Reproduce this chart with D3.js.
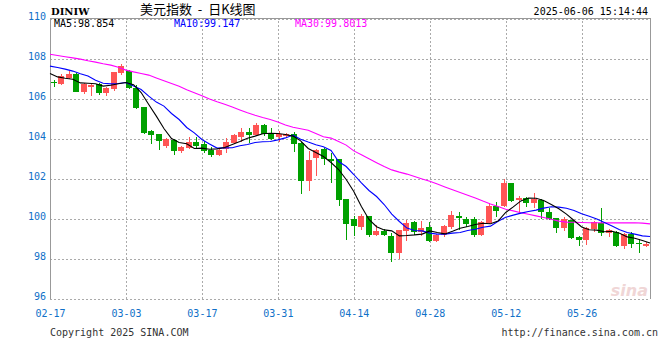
<!DOCTYPE html>
<html><head><meta charset="utf-8">
<script src="https://cdn.jsdelivr.net/npm/d3@7"></script>
<style>body{margin:0;background:#fff}svg{display:block}</style>
</head><body><svg id="c" width="660" height="360"></svg>
<script>
const dates = ["02-17","02-18","02-19","02-20","02-21","02-24","02-25","02-26","02-27","02-28",
"03-03","03-04","03-05","03-06","03-07","03-10","03-11","03-12","03-13","03-14",
"03-17","03-18","03-19","03-20","03-21","03-24","03-25","03-26","03-27","03-28",
"03-31","04-01","04-02","04-03","04-04","04-07","04-08","04-09","04-10","04-11",
"04-14","04-15","04-16","04-17","04-18","04-21","04-22","04-23","04-24","04-25",
"04-28","04-29","04-30","05-01","05-02","05-05","05-06","05-07","05-08","05-09",
"05-12","05-13","05-14","05-15","05-16","05-19","05-20","05-21","05-22","05-23",
"05-26","05-27","05-28","05-29","05-30","06-02","06-03","06-04","06-05","06-06"];
const open = [106.84,106.72,107.03,107.24,106.34,106.57,106.74,106.29,106.47,107.27,
107.40,106.55,105.57,104.36,104.23,103.62,103.95,103.39,103.55,103.84,
103.73,103.45,103.18,103.46,103.76,104.09,104.34,104.18,104.70,104.26,
104.06,104.13,104.25,103.78,101.88,103.05,103.48,102.98,102.97,100.98,
100.00,99.59,100.13,99.18,99.38,99.13,98.29,99.39,99.83,99.32,
99.57,98.89,99.18,99.57,100.13,99.98,99.96,99.18,99.79,100.63,
100.63,101.79,100.93,101.01,100.76,100.93,100.31,100.01,99.54,99.93,
99.09,98.93,99.48,99.76,99.26,99.34,98.64,99.21,98.79,98.63];
const high = [106.93,107.24,107.40,107.27,106.76,106.79,106.80,106.60,107.34,107.72,
107.42,106.66,105.60,104.42,104.25,104.05,103.98,103.63,104.06,104.09,
103.90,103.56,103.50,104.03,104.25,104.51,104.51,104.76,104.74,104.51,
104.38,104.30,104.32,103.85,103.40,103.48,103.51,103.30,102.99,101.00,
100.11,100.25,100.15,99.68,99.48,99.26,99.43,99.93,99.90,99.89,
99.84,99.22,99.68,100.39,100.34,100.06,100.09,99.88,100.76,100.84,
101.96,101.80,101.13,101.06,101.26,100.98,100.54,100.04,100.09,99.95,
99.14,99.59,99.88,100.54,99.50,99.36,99.26,99.34,98.98,98.85];
const low = [106.59,106.67,106.96,106.32,106.25,106.14,106.20,106.13,106.40,107.18,
106.47,105.49,104.21,103.74,103.42,103.55,103.18,103.29,103.46,103.46,
103.30,103.10,103.12,103.30,103.72,103.82,103.78,104.15,104.13,103.91,
103.82,104.05,103.34,101.25,101.40,102.13,102.68,101.79,100.61,98.93,
99.13,99.43,99.09,99.13,99.13,97.84,97.96,98.90,99.20,99.15,
98.84,98.85,99.08,99.47,99.45,99.59,99.09,99.12,99.71,100.06,
100.56,100.84,100.29,100.56,100.51,99.98,99.93,99.29,99.38,98.98,
98.63,98.68,99.32,99.14,99.08,98.56,98.48,98.54,98.26,98.60];
const close = [106.77,107.13,107.24,106.33,106.71,106.68,106.28,106.53,107.33,107.64,
106.52,105.53,104.27,104.19,103.89,103.98,103.39,103.57,103.84,103.65,
103.36,103.18,103.45,103.82,104.19,104.34,104.18,104.70,104.23,103.98,
104.24,104.24,103.75,101.88,102.93,103.43,102.96,102.87,100.93,99.73,
99.63,100.13,99.18,99.38,99.18,98.29,99.43,99.76,99.32,99.55,
98.89,99.18,99.63,100.18,100.03,99.72,99.18,99.84,100.63,100.39,
101.79,100.89,101.03,100.76,100.97,100.31,99.98,99.54,99.96,99.04,
98.93,99.54,99.84,99.26,99.43,98.64,99.21,98.71,98.71,98.71];
const ma5 = [107.25,107.08,107.01,106.96,106.78,106.76,106.74,106.62,106.66,106.74,
106.80,106.69,106.30,105.70,105.12,104.50,104.00,103.80,103.74,103.50,
103.52,103.46,103.48,103.55,103.70,103.85,104.01,104.12,104.24,104.26,
104.25,104.20,104.12,103.88,103.50,103.30,103.10,102.80,102.45,101.95,
101.35,100.60,99.95,99.59,99.43,99.38,99.13,99.15,99.18,99.22,
99.38,99.30,99.23,99.36,99.51,99.60,99.70,99.76,99.74,99.87,
100.30,100.58,100.88,101.02,101.01,100.90,100.70,100.49,100.22,99.90,
99.58,99.44,99.42,99.34,99.36,99.26,99.08,99.01,98.90,98.78];
const ma10 = [107.62,107.55,107.47,107.37,107.24,107.12,106.91,106.76,106.73,106.75,
106.80,106.62,106.45,106.12,105.82,105.62,105.25,104.95,104.55,104.28,
103.95,103.73,103.52,103.53,103.54,103.64,103.70,103.80,103.84,103.85,
103.93,104.03,104.17,103.96,103.82,103.69,103.59,103.40,102.85,102.60,
102.20,101.78,101.40,101.10,100.70,100.22,99.85,99.52,99.40,99.38,
99.27,99.22,99.22,99.27,99.30,99.40,99.46,99.56,99.62,99.86,
100.06,100.17,100.27,100.35,100.42,100.52,100.59,100.57,100.51,100.40,
100.24,100.11,99.98,99.80,99.62,99.44,99.30,99.22,99.13,99.10];
const ma30 = [108.21,108.15,108.09,108.03,107.97,107.89,107.82,107.74,107.67,107.56,
107.42,107.33,107.25,107.17,107.03,106.89,106.75,106.61,106.44,106.29,
106.14,105.98,105.84,105.71,105.57,105.43,105.29,105.16,105.05,104.95,
104.83,104.68,104.56,104.49,104.41,104.25,104.09,104.02,103.85,103.67,
103.38,103.19,102.99,102.79,102.60,102.43,102.32,102.22,102.10,101.98,
101.86,101.72,101.58,101.44,101.30,101.16,101.02,100.87,100.73,100.60,
100.46,100.38,100.29,100.21,100.13,100.05,99.96,99.87,99.82,99.81,
99.80,99.79,99.79,99.78,99.78,99.78,99.78,99.79,99.77,99.73];
const yTicks = [96,98,100,102,104,106,108,110];
const xTickIdx = [0,10,20,30,40,50,60,70];
const legend = [
  {label:"MA5:98.854", color:"#000000"},
  {label:"MA10:99.147", color:"#0000ff"},
  {label:"MA30:99.8013", color:"#ff00ff"}
];
const maSeries = [ma30, ma10, ma5];
const maColors = ["#ff00ff","#0000ff","#000000"];

const svg = d3.select("#c");
const L = 50, R = 650, T = 18.5, B = 298.5;
const MONO = "'DejaVu Sans Mono', monospace";
const BLUE = "#1070c8";
const UP = "#ff5555", DOWN = "#00a000";

const y = d3.scaleLinear().domain([96,110]).range([B,T]);
const xb = d3.scaleBand().domain(d3.range(dates.length)).range([L,R]).paddingInner(0.2).paddingOuter(0.1);
const xl = d3.scaleLinear().domain([0, dates.length-1]).range([L,R]);

// horizontal gridlines + y labels
const ya = svg.append("g").attr("transform",`translate(${L},0)`)
  .call(d3.axisLeft(y).tickValues(yTicks).tickSize(-(R-L)).tickPadding(4).tickFormat(d3.format("d")));
ya.select(".domain").remove();
ya.selectAll(".tick line").attr("stroke","#aaa").attr("stroke-dasharray","2,2").attr("shape-rendering","crispEdges");
ya.selectAll(".tick text").attr("fill",BLUE).attr("font-family",MONO).attr("font-size",10).attr("dy",1);

// vertical gridlines + x labels
const xa = svg.append("g").attr("transform",`translate(0,${B})`)
  .call(d3.axisBottom(xl).tickValues(xTickIdx).tickSize(-(B-T)).tickFormat(i=>dates[i]));
xa.select(".domain").remove();
xa.selectAll(".tick line").attr("stroke","#aaa").attr("stroke-dasharray","2,2").attr("shape-rendering","crispEdges");
xa.selectAll(".tick text").attr("fill",BLUE).attr("font-family",MONO).attr("font-size",10).attr("y",18).attr("dy",0);

// frame
svg.append("path").attr("d",`M${L},${B}V${T}H${R}V${B}`).attr("fill","none").attr("stroke","#999").attr("stroke-width",1).attr("shape-rendering","crispEdges");
svg.append("line").attr("x1",L+0.5).attr("x2",L+0.5).attr("y1",T).attr("y2",B).attr("stroke","#999").attr("shape-rendering","crispEdges");

// watermark
svg.append("text").attr("x",648).attr("y",296).attr("text-anchor","end")
  .attr("font-family","'DejaVu Sans', sans-serif").attr("font-style","italic").attr("font-weight","bold")
  .attr("font-size",16).attr("fill","#f0d6d6").text("sina");

// candles
const idx = d3.range(dates.length);
const cg = svg.append("g").attr("shape-rendering","crispEdges");
cg.selectAll("line.wick").data(idx).join("line").attr("class","wick")
  .attr("x1",i=>Math.round(xb(i)+xb.bandwidth()/2)+0.5).attr("x2",i=>Math.round(xb(i)+xb.bandwidth()/2)+0.5)
  .attr("y1",i=>y(high[i])).attr("y2",i=>y(low[i]))
  .attr("stroke",i=>close[i]>=open[i]?UP:DOWN).attr("stroke-width",1);
cg.selectAll("rect.body").data(idx).join("rect").attr("class","body")
  .attr("x",i=>Math.round(xb(i))).attr("width",xb.bandwidth())
  .attr("y",i=>y(Math.max(open[i],close[i])))
  .attr("height",i=>Math.max(1.5, Math.abs(y(open[i])-y(close[i]))))
  .attr("fill",i=>close[i]>=open[i]?UP:DOWN);

// MA lines
const line = d3.line().x((d,i)=>xl(i)).y(d=>y(d));
maSeries.forEach((s,k)=>{
  svg.append("path").datum(s).attr("d",line).attr("fill","none").attr("stroke",maColors[k]).attr("stroke-width",1.1);
});

// legend
const lx = [54,174,295];
legend.forEach((d,k)=>{
  svg.append("text").attr("x",lx[k]).attr("y",27).attr("font-family",MONO).attr("font-size",10).attr("fill",d.color).text(d.label);
});

// header
svg.append("text").attr("x",51).attr("y",15).attr("font-family","'DejaVu Serif', serif").attr("font-weight","bold").attr("font-size",10).attr("fill","#000").text("DINIW");
svg.append("text").attr("x",140).attr("y",14).attr("font-family","'Noto Sans CJK SC', sans-serif").attr("font-size",13).attr("fill","#000")
  .style("white-space","pre").text("美元指数  -  日K线图");
svg.append("text").attr("x",648).attr("y",15).attr("text-anchor","end").attr("font-family",MONO).attr("font-size",10).attr("fill","#000").text("2025-06-06 15:14:44");

// footer
svg.append("text").attr("x",50).attr("y",336).attr("font-family",MONO).attr("font-size",10).attr("fill","#333").text("Copyright 2025 SINA.COM");
svg.append("text").attr("x",658).attr("y",336).attr("text-anchor","end").attr("font-family",MONO).attr("font-size",10).attr("fill","#333").text("http://finance.sina.com.cn");
</script></body></html>
